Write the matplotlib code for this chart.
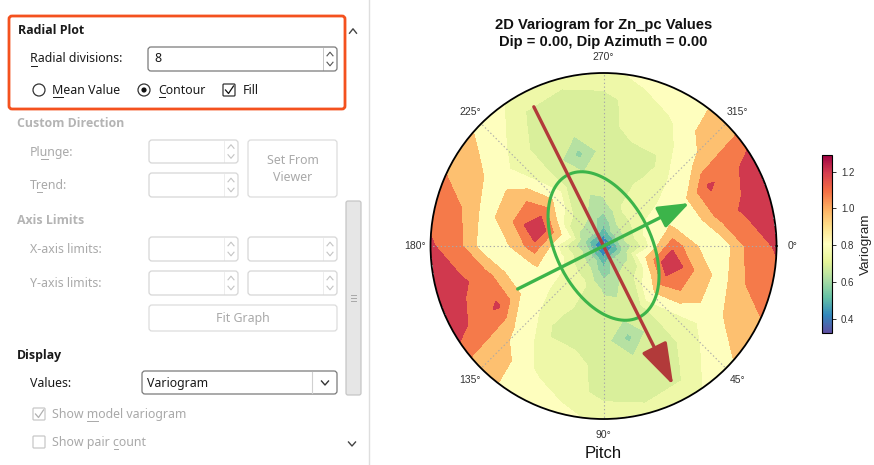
import numpy as np
import matplotlib
matplotlib.use("Agg")
import matplotlib.pyplot as plt
from matplotlib.patches import FancyBboxPatch, Circle
from matplotlib.colors import Normalize
from matplotlib.cm import ScalarMappable

# ---- variogram map values (pitch clockwise from east, lag as fraction of max) ----
pitch_deg = [0, 15, 30, 45, 60, 75, 90, 105, 120, 135, 150, 165,
             180, 195, 210, 225, 240, 255, 270, 285, 300, 315, 330, 345]
lag_frac = [0.0, 0.1, 0.25, 0.4, 0.55, 0.7, 0.85, 1.0]
gamma = [
    [0.35, 0.60, 0.75, 1.10, 0.88, 0.83, 1.08, 1.16],
    [0.35, 0.58, 0.88, 1.29, 1.00, 0.83, 1.02, 1.09],
    [0.35, 0.60, 0.74, 1.08, 1.00, 0.83, 0.92, 0.98],
    [0.35, 0.62, 0.72, 0.85, 0.76, 0.75, 0.80, 0.86],
    [0.35, 0.62, 0.69, 0.69, 0.69, 0.69, 0.71, 0.74],
    [0.35, 0.57, 0.64, 0.69, 0.58, 0.69, 0.69, 0.74],
    [0.35, 0.52, 0.65, 0.69, 0.69, 0.69, 0.70, 0.76],
    [0.35, 0.57, 0.69, 0.69, 0.69, 0.75, 0.75, 0.80],
    [0.35, 0.62, 0.74, 0.73, 0.70, 0.75, 0.79, 0.86],
    [0.35, 0.63, 0.75, 0.74, 0.79, 0.83, 0.96, 0.92],
    [0.35, 0.63, 0.77, 0.83, 0.88, 1.16, 1.10, 1.22],
    [0.35, 0.63, 0.79, 0.90, 0.82, 1.08, 1.17, 1.24],
    [0.35, 0.60, 0.75, 1.10, 0.88, 0.83, 1.08, 1.16],
    [0.35, 0.58, 0.88, 1.29, 1.00, 0.83, 1.02, 1.09],
    [0.35, 0.60, 0.74, 1.08, 1.00, 0.83, 0.92, 0.98],
    [0.35, 0.62, 0.72, 0.85, 0.76, 0.75, 0.80, 0.86],
    [0.35, 0.62, 0.69, 0.69, 0.69, 0.69, 0.71, 0.74],
    [0.35, 0.57, 0.64, 0.69, 0.58, 0.69, 0.69, 0.74],
    [0.35, 0.52, 0.65, 0.69, 0.69, 0.69, 0.70, 0.76],
    [0.35, 0.57, 0.69, 0.69, 0.69, 0.75, 0.75, 0.80],
    [0.35, 0.62, 0.74, 0.73, 0.70, 0.75, 0.79, 0.86],
    [0.35, 0.63, 0.75, 0.74, 0.79, 0.83, 0.96, 0.92],
    [0.35, 0.63, 0.77, 0.83, 0.88, 1.16, 1.10, 1.22],
    [0.35, 0.63, 0.79, 0.90, 0.82, 1.08, 1.17, 1.24],
]
levels = [0.30, 0.39, 0.46, 0.54, 0.60, 0.66, 0.72, 0.78, 0.89, 1.02, 1.145, 1.30]
band_colors = ["#3c50a0", "#3288bd", "#5fb9a8", "#8fd1a4", "#b6e1a2", "#d9ef9b",
               "#eef8a8", "#fefebe", "#fdc070", "#f57a4a", "#d0394e"]
gamma_min, gamma_max = 0.325, 1.29
cbar_ticks = [0.4, 0.6, 0.8, 1.0, 1.2]
theta_ticks = [0, 45, 90, 135, 180, 225, 270, 315]
theta_labels = ["0°", "45°", "90°", "135°", "180°", "225°", "270°", "315°"]

# model ellipse / principal directions
major_azimuth = 63.4
major_range = 0.46
minor_range = 0.275
major_arrow_len = 0.90
minor_arrow_len = 0.555

TXT = "#1a1a1a"
GREY = "#a9a9a9"
UI_FONT = "Noto Sans"
UI_BOLD = "Open Sans"
PLOT_FONT = "Liberation Sans"

fig = plt.figure(figsize=(8.74, 4.65), dpi=100)
fig.patch.set_facecolor("white")

# ---------------- left options panel (pixel coordinates) ----------------
ui = fig.add_axes([0, 0, 1, 1])
ui.set_xlim(0, 874)
ui.set_ylim(465, 0)
ui.axis("off")
renderer = fig.canvas.get_renderer()


def label(x, y, s, color=TXT, bold=False, under=None, size=8.9, ha="left"):
    kw = dict(fontsize=size, family=UI_BOLD if bold else UI_FONT,
              fontweight="bold" if bold else "normal")
    ui.text(x, y, s, color=color, va="center", ha=ha, **kw)
    if under is not None:
        w0 = 0.0
        if under > 0:
            t0 = ui.text(x, y, s[:under], **kw)
            w0 = t0.get_window_extent(renderer).width
            t0.remove()
        t1 = ui.text(x, y, s[:under + 1], **kw)
        w1 = t1.get_window_extent(renderer).width
        t1.remove()
        ui.plot([x + w0 + 0.5, x + w1 - 0.5], [y + 7, y + 7], color=color, lw=0.7)


def box(x0, y0, x1, y1, edge, face="white", lw=0.9, r=3):
    ui.add_patch(FancyBboxPatch((x0, y0), x1 - x0, y1 - y0,
                                boxstyle=f"round,pad=0,rounding_size={r}",
                                fc=face, ec=edge, lw=lw))


def chevron(x, y, up, color, w=3.0, h=1.8, lw=0.8):
    s = 1 if up else -1
    ui.plot([x - w, x, x + w], [y + s * h, y - s * h, y + s * h], color=color, lw=lw)


def spin_box(x0, y0, x1, y1, edge, arrow):
    box(x0, y0, x1, y1, edge)
    ui.plot([x1 - 14, x1 - 14], [y0 + 1, y1 - 1], color=edge, lw=0.6, alpha=0.5)
    chevron(x1 - 7, (y0 + y1) / 2 - 5, True, arrow)
    chevron(x1 - 7, (y0 + y1) / 2 + 5, False, arrow)


# highlight frame
ui.add_patch(FancyBboxPatch((9, 16), 336, 93, boxstyle="round,pad=0,rounding_size=3",
                            fc="none", ec="#f4511e", lw=2.0))
label(18, 31, "Radial Plot", bold=True)
chevron(353, 31, True, "#444444", w=3.5, h=2.2, lw=1.0)

label(30, 59, "Radial divisions:", under=0)
spin_box(148, 47, 337, 71, "#7a7a7a", "#555555")
label(154, 59, "8")

ui.add_patch(Circle((39, 90), 6, fc="white", ec="#333333", lw=0.9))
label(52, 90, "Mean Value", under=0)
ui.add_patch(Circle((144, 90), 6, fc="white", ec="#333333", lw=0.9))
ui.add_patch(Circle((144, 90), 2.6, fc="#111111", ec="none"))
label(158, 90, "Contour", under=0)
box(223, 84, 235, 96, "#333333", r=1)
ui.plot([225.5, 228.5, 233.5], [90, 93.5, 86], color="#111111", lw=0.9)
label(243, 90, "Fill")

label(17, 123, "Custom Direction", color="#b4b4b4", bold=True)
label(30, 152, "Plunge:", color=GREY, under=2)
spin_box(149, 140, 238, 163, "#d6d6d6", "#c4c4c4")
label(30, 185, "Trend:", color=GREY, under=1)
spin_box(149, 173, 238, 197, "#d6d6d6", "#c4c4c4")
box(248, 140, 337, 197, "#dcdcdc")
label(292.5, 160, "Set From", color=GREY, ha="center")
label(292.5, 177, "Viewer", color=GREY, ha="center")

label(17, 220, "Axis Limits", color="#b4b4b4", bold=True)
label(30, 249, "X-axis limits:", color=GREY)
spin_box(149, 237, 238, 261, "#d6d6d6", "#c4c4c4")
spin_box(248, 237, 337, 261, "#d6d6d6", "#c4c4c4")
label(30, 283, "Y-axis limits:", color=GREY)
spin_box(149, 271, 238, 295, "#d6d6d6", "#c4c4c4")
spin_box(248, 271, 337, 295, "#d6d6d6", "#c4c4c4")
box(149, 305, 337, 331, "#dcdcdc")
label(243, 318, "Fit Graph", color=GREY, ha="center")

label(17, 355, "Display", bold=True)
label(30, 383, "Values:")
box(142, 371, 337, 394, "#7a7a7a")
ui.plot([312, 312], [372, 393], color="#d0d0d0", lw=0.8)
chevron(325, 383, False, "#333333", w=3.5, h=2.0, lw=1.0)
label(147, 383, "Variogram")

box(33, 408, 45, 420, "#c8c8c8", r=1)
ui.plot([35.5, 38.5, 43.5], [414, 417.5, 410], color="#b0b0b0", lw=0.9)
label(52, 414, "Show model variogram", color=GREY, under=5)
box(33, 436, 45, 448, "#c8c8c8", r=1)
label(52, 442, "Show pair count", color=GREY, under=10)
chevron(352, 444, False, "#444444", w=3.5, h=2.0, lw=1.0)

# scrollbar thumb and panel divider
box(346, 201, 361, 395, "#c6c6c6", face="#e6e6e6", r=2)
for gy in (295, 298, 301):
    ui.plot([351, 356], [gy, gy], color="#a8a8a8", lw=0.7)
ui.plot([369, 369], [0, 465], color="#dedede", lw=1.0)

# ---------------- polar variogram map ----------------
ax = fig.add_axes([0.4926, 0.0989, 0.3959, 0.7441], projection="polar")
ax.set_theta_zero_location("E")
ax.set_theta_direction(-1)

z = np.array(gamma)
z = np.vstack([z, z[:1]])
th = np.deg2rad(pitch_deg + [360])
R, TH = np.meshgrid(lag_frac, th)
ax.contourf(TH, R, z, levels=levels, colors=band_colors, zorder=1)

ax.set_ylim(0, 1)
ax.set_yticks([])
ax.set_xticks(np.deg2rad(theta_ticks))
ax.set_xticklabels(theta_labels, fontsize=7.5, color="#333333", family=PLOT_FONT)
ax.tick_params(axis="x", pad=1)
ax.grid(True, linestyle=(0, (1.2, 2.2)), color="#a8a8a8", lw=0.8)
ax.spines["polar"].set_color("black")
ax.spines["polar"].set_linewidth(1.3)

# model ellipse
phi = np.deg2rad(major_azimuth)
t = np.linspace(0, 2 * np.pi, 241)
ex = major_range * np.cos(t) * np.cos(phi) - minor_range * np.sin(t) * np.sin(phi)
ey = major_range * np.cos(t) * np.sin(phi) + minor_range * np.sin(t) * np.cos(phi)
ax.plot(np.arctan2(ey, ex), np.hypot(ex, ey), color="#3cb44a", lw=2.2, zorder=4)

# principal direction arrows
ax.annotate("", xy=(phi, major_arrow_len), xytext=(phi + np.pi, major_arrow_len),
            arrowprops=dict(arrowstyle="-|>,head_length=26,head_width=8.5",
                            mutation_scale=1, color="#b23a3a", lw=2.4,
                            shrinkA=0, shrinkB=0), zorder=5)
ax.annotate("", xy=(phi - np.pi / 2, minor_arrow_len),
            xytext=(phi + np.pi / 2, minor_arrow_len),
            arrowprops=dict(arrowstyle="-|>,head_length=19,head_width=7",
                            mutation_scale=1, color="#3cb44a", lw=2.4,
                            shrinkA=0, shrinkB=0), zorder=6)

fig.text(603.5 / 874, 1 - 25 / 465, "2D Variogram for Zn_pc Values",
         ha="center", va="center", fontsize=10.6, fontweight="bold", family=PLOT_FONT,
         color="#111111")
fig.text(603.5 / 874, 1 - 42 / 465, "Dip = 0.00, Dip Azimuth = 0.00",
         ha="center", va="center", fontsize=10.6, fontweight="bold", family=PLOT_FONT,
         color="#111111")
fig.text(603.5 / 874, 1 - 453 / 465, "Pitch", ha="center", va="center",
         fontsize=12, family=PLOT_FONT, color="#111111")

# colorbar
norm = Normalize(vmin=gamma_min, vmax=gamma_max)
cax = fig.add_axes([822 / 874, (465 - 333) / 465, 10 / 874, 178 / 465])
cb = fig.colorbar(ScalarMappable(norm=norm, cmap="Spectral_r"), cax=cax, ticks=cbar_ticks)
cb.ax.tick_params(labelsize=7, colors="#333333", length=3, width=0.7)
for tl in cb.ax.get_yticklabels():
    tl.set_family(PLOT_FONT)
cb.set_label("Variogram", fontsize=9.7, family=PLOT_FONT, color="#222222", labelpad=4)
cb.outline.set_linewidth(0.8)

fig.savefig("out.png", dpi=100)
